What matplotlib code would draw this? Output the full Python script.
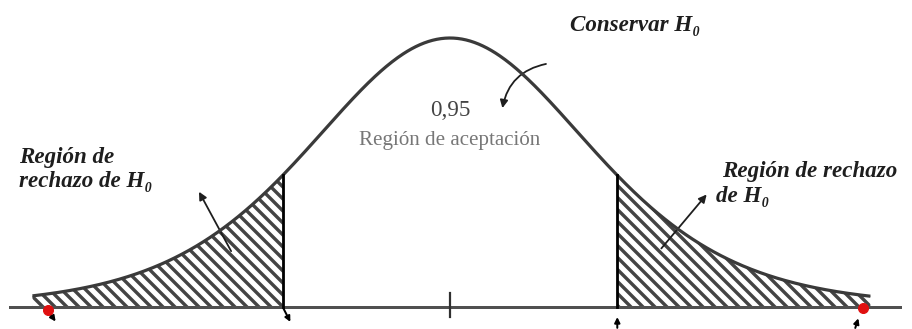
import matplotlib
matplotlib.use('Agg')
import matplotlib.pyplot as plt
import numpy as np

# ── Style ──
plt.rcParams.update({
    'font.family':     ['Liberation Serif', 'DejaVu Serif'],
    'hatch.linewidth': 3.4,
})

# ── Diagram parameters (z units; curve height normalised so the peak is 1) ──
df_shape   = 7                 # t-like shape, fat tails as in the drawing
z_crit     = [-1.17, 1.17]     # limits of the acceptance region
z_tails    = [-2.92, 2.94]     # where the drawn curve stops
axis_span  = [-3.08, 3.15]     # horizontal axis line
dot_z      = [-2.81, 2.89]     # red markers at the ends of the axis
dot_y      = [-0.011, -0.004]

prob_accept  = '0,95'
label_accept = 'Región de aceptación'
label_keep   = 'Conservar H₀'
label_left   = 'Región de\nrechazo de H₀'
label_right1 = 'Región de rechazo'
label_right2 = 'de H₀'

curve_col = '#3a3a3a'
hatch_col = '#444444'
text_col  = '#1e1e1e'


def density(z):
    return (1 + z**2 / df_shape) ** (-(df_shape + 1) / 2)


fig = plt.figure(figsize=(912 / 72, 329 / 72), dpi=72)
fig.patch.set_facecolor('white')
ax = fig.add_axes([0, 0, 1, 1])
ax.set_xlim(-3.147, 3.231)
ax.set_ylim(-0.0818, 1.1413)
ax.axis('off')

# ── Curve and rejection regions ──
z = np.linspace(z_tails[0], z_tails[1], 600)
ax.plot(z, density(z), color=curve_col, lw=3.2, solid_capstyle='butt', zorder=4)

z_left  = np.linspace(z_tails[0], z_crit[0], 200)
z_right = np.linspace(z_crit[1], z_tails[1], 200)
for zz in (z_left, z_right):
    ax.fill_between(zz, 0, density(zz), facecolor='white',
                    edgecolor=hatch_col, hatch='\\\\', linewidth=0, zorder=2)

# horizontal axis + centre tick
ax.plot(axis_span, [0, 0], color='#505050', lw=3, zorder=3)
ax.plot([0, 0], [-0.037, 0.052], color='#303030', lw=2.2, zorder=3)

# critical value lines
for zc in z_crit:
    ax.plot([zc, zc], [0, density(zc)], color='black', lw=2.8, zorder=5)

# little arrow stubs under the axis
stub = dict(arrowstyle='-|>', color='black', lw=2, mutation_scale=11)
ax.annotate('', xy=(z_crit[0] + 0.06, -0.062), xytext=(z_crit[0], 0.0), arrowprops=stub)
ax.annotate('', xy=(z_crit[1], -0.03), xytext=(z_crit[1], -0.085), arrowprops=stub)
ax.annotate('', xy=(dot_z[0] + 0.06, -0.06), xytext=(dot_z[0], -0.015), arrowprops=stub)
ax.annotate('', xy=(dot_z[1] - 0.03, -0.035), xytext=(dot_z[1] - 0.06, -0.085), arrowprops=stub)

# red end markers
ax.plot(dot_z, dot_y, 'o', color='#e01010', ms=10, zorder=6)

# ── Labels ──
bi = dict(fontsize=23, fontweight='bold', style='italic', color=text_col)

ax.text(0.839, 1.048, label_keep, ha='left', va='center', **bi)
ax.annotate('', xy=(0.364, 0.732), xytext=(0.685, 0.905),
            arrowprops=dict(arrowstyle='-|>', color=text_col, lw=1.8,
                            mutation_scale=16, connectionstyle='arc3,rad=0.35'))

ax.text(0.0, 0.732, prob_accept, fontsize=23, color='#444444', ha='center', va='center')
ax.text(0.0, 0.620, label_accept, fontsize=21, color='#777777', ha='center', va='center')

ax.text(-3.014, 0.511, label_left, ha='left', va='center', linespacing=1.2, **bi)
ax.annotate('', xy=(-1.762, 0.435), xytext=(-1.524, 0.201),
            arrowprops=dict(arrowstyle='-|>', color=text_col, lw=1.8, mutation_scale=16))

ax.text(1.902, 0.502, label_right1, ha='left', va='center', **bi)
ax.text(1.860, 0.409, label_right2, ha='left', va='center', **bi)
ax.annotate('', xy=(1.804, 0.424), xytext=(1.469, 0.212),
            arrowprops=dict(arrowstyle='-|>', color=text_col, lw=1.8, mutation_scale=16))

fig.savefig('out.png', dpi=72, facecolor='white')
